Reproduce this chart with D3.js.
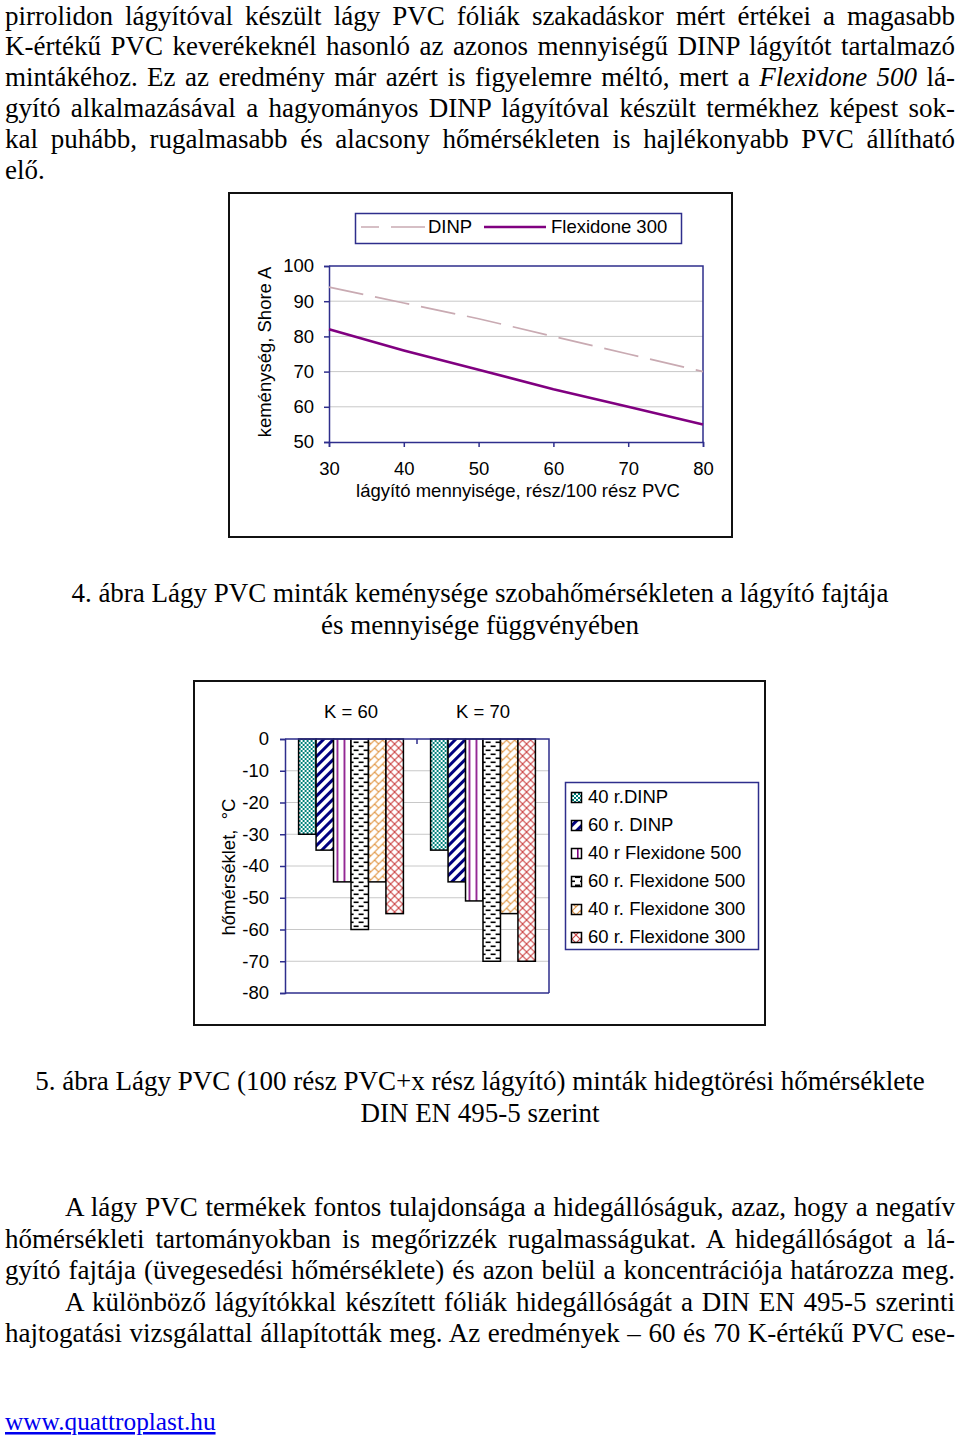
<!DOCTYPE html>
<html><head><meta charset="utf-8">
<script src="https://cdn.jsdelivr.net/npm/d3@7"></script>
<style>body{margin:0;background:#fff}svg{display:block}</style>
</head><body><svg id="page" width="960" height="1444"></svg>
<script>
// ---------- data ----------
const xValues = [30, 40, 50, 60, 70, 80];
const dinpHardness = [94, 89.5, 85, 80, 75, 70];
const flex300Hardness = [82, 76, 70.5, 65, 60, 55];
const yTicks1 = [50, 60, 70, 80, 90, 100];
const lineSeries = ["DINP", "Flexidone 300"];

const categories = ["K = 60", "K = 70"];
const barSeries = ["40 r.DINP", "60 r. DINP", "40 r Flexidone 500", "60 r. Flexidone 500", "40 r. Flexidone 300", "60 r. Flexidone 300"];
const k60Values = [-30, -35, -45, -60, -45, -55];
const k70Values = [-35, -45, -51, -70, -55, -70];
const yTicks2 = [0, -10, -20, -30, -40, -50, -60, -70, -80];

const topParagraph = [
  [["pirrolidon lágyítóval készült lágy PVC fóliák szakadáskor mért értékei a magasabb", 0]],
  [["K-értékű PVC keverékeknél hasonló az azonos mennyiségű DINP lágyítót tartalmazó", 0]],
  [["mintákéhoz. Ez az eredmény már azért is figyelemre méltó, mert a ", 0], ["Flexidone 500", 1], [" lá-", 0]],
  [["gyító alkalmazásával a hagyományos DINP lágyítóval készült termékhez képest sok-", 0]],
  [["kal puhább, rugalmasabb és alacsony hőmérsékleten is hajlékonyabb PVC állítható", 0]],
  [["elő.", 0]]
];
const caption1 = ["4. ábra Lágy PVC minták keménysége szobahőmérsékleten a lágyító fajtája", "és mennyisége függvényében"];
const caption2 = ["5. ábra Lágy PVC (100 rész PVC+x rész lágyító) minták hidegtörési hőmérséklete", "DIN EN 495-5 szerint"];
const bottomParagraph = [
  ["A lágy PVC termékek fontos tulajdonsága a hidegállóságuk, azaz, hogy a negatív", true, true],
  ["hőmérsékleti tartományokban is megőrizzék rugalmasságukat. A hidegállóságot a lá-", false, true],
  ["gyító fajtája (üvegesedési hőmérséklete) és azon belül a koncentrációja határozza meg.", false, true],
  ["A különböző lágyítókkal készített fóliák hidegállóságát a DIN EN 495-5 szerinti", true, true],
  ["hajtogatási vizsgálattal állapították meg. Az eredmények – 60 és 70 K-értékű PVC ese-", false, true]
];
const footerText = "www.quattroplast.hu";

// ---------- setup ----------
const svg = d3.select("#page");
const SERIF = "'Liberation Serif','Times New Roman',serif";
const SANS = "'Liberation Sans',Arial,sans-serif";
const AXIS = "#2e2e8c";
const GRID = "#c8c8c8";
const fmt = d => String(d);

function serifLine(segs, x, y, width, justify) {
  const t = svg.append("text").attr("x", x).attr("y", y)
    .attr("font-family", SERIF).attr("font-size", 27).attr("fill", "#000");
  segs.forEach(s => t.append("tspan").attr("font-style", s[1] ? "italic" : "normal").text(s[0]));
  if (justify) {
    const full = segs.map(s => s[0]).join("");
    const spaces = (full.match(/ /g) || []).length;
    const len = t.node().getComputedTextLength();
    if (spaces > 0) t.style("word-spacing", ((width - len) / spaces) + "px");
  }
  return t;
}
function centered(str, y) {
  svg.append("text").attr("x", 480).attr("y", y).attr("text-anchor", "middle")
    .attr("font-family", SERIF).attr("font-size", 27).text(str);
}

// top paragraph
topParagraph.forEach((segs, i) => {
  serifLine(segs, 5, 24.5 + i * 30.9, 950, i < topParagraph.length - 1);
});
// bottom paragraph
bottomParagraph.forEach((l, i) => {
  const x = l[1] ? 65 : 5;
  serifLine([[l[0], 0]], x, 1216 + i * 31.5, 955 - x, l[2]);
});
centered(caption1[0], 602); centered(caption1[1], 634);
centered(caption2[0], 1090); centered(caption2[1], 1122);
svg.append("text").attr("x", 5).attr("y", 1430).attr("font-family", SERIF).attr("font-size", 25.3)
  .attr("fill", "#0000ee").attr("text-decoration", "underline").text(footerText);

// ---------- chart 1 ----------
svg.append("rect").attr("x", 229).attr("y", 193).attr("width", 503).attr("height", 344)
  .attr("fill", "none").attr("stroke", "#111").attr("stroke-width", 2);

const x1 = d3.scaleLinear().domain([30, 80]).range([329, 703]);
const y1 = d3.scaleLinear().domain([50, 100]).range([442, 266]);

const g1 = svg.append("g");
g1.selectAll("line.grid").data(yTicks1.filter(v => v > 50 && v < 100)).join("line")
  .attr("x1", x1(30)).attr("x2", x1(80)).attr("y1", d => y1(d)).attr("y2", d => y1(d))
  .attr("stroke", GRID).attr("stroke-width", 1);
g1.append("path").attr("d", `M${x1(30)},${y1(100)}H${x1(80)}V${y1(50)}`)
  .attr("fill", "none").attr("stroke", AXIS).attr("stroke-width", 1.5);

const ax1 = g1.append("g").attr("transform", `translate(${x1(30)},0)`)
  .call(d3.axisLeft(y1).tickValues(yTicks1).tickSize(5).tickPadding(10).tickFormat(fmt));
const bx1 = g1.append("g").attr("transform", `translate(0,${y1(50)})`)
  .call(d3.axisBottom(x1).tickValues(xValues).tickSize(5).tickPadding(15).tickFormat(fmt));
[ax1, bx1].forEach(a => {
  a.select(".domain").attr("stroke", AXIS).attr("stroke-width", 1.5);
  a.selectAll(".tick line").attr("stroke", AXIS).attr("stroke-width", 1.5);
  a.selectAll("text").attr("font-family", SANS).attr("font-size", 18.5).attr("fill", "#000");
});

const line1 = d3.line().x((d, i) => x1(xValues[i])).y(d => y1(d));
g1.append("path").datum(dinpHardness).attr("d", line1).attr("fill", "none")
  .attr("stroke", "#c9aab2").attr("stroke-width", 1.6).attr("stroke-dasharray", "35,12");
g1.append("path").datum(flex300Hardness).attr("d", line1).attr("fill", "none")
  .attr("stroke", "#800080").attr("stroke-width", 2.6);

g1.append("text").attr("transform", `translate(271,352) rotate(-90)`).attr("text-anchor", "middle")
  .attr("font-family", SANS).attr("font-size", 18.5).text("keménység, Shore A");
g1.append("text").attr("x", 518).attr("y", 497).attr("text-anchor", "middle")
  .attr("font-family", SANS).attr("font-size", 18.5).text("lágyító mennyisége, rész/100 rész PVC");

// legend 1
g1.append("rect").attr("x", 355.5).attr("y", 213.5).attr("width", 326).attr("height", 30)
  .attr("fill", "#fff").attr("stroke", AXIS).attr("stroke-width", 1.5);
g1.append("line").attr("x1", 361).attr("x2", 425).attr("y1", 227).attr("y2", 227)
  .attr("stroke", "#c9aab2").attr("stroke-width", 1.6).attr("stroke-dasharray", "35,12").attr("stroke-dashoffset", -30);
g1.append("text").attr("x", 428).attr("y", 233).attr("font-family", SANS).attr("font-size", 18.5).text(lineSeries[0]);
g1.append("line").attr("x1", 484).attr("x2", 546).attr("y1", 227).attr("y2", 227)
  .attr("stroke", "#800080").attr("stroke-width", 2.6);
g1.append("text").attr("x", 551).attr("y", 233).attr("font-family", SANS).attr("font-size", 18.5).text(lineSeries[1]);

// ---------- chart 2 ----------
svg.append("rect").attr("x", 194).attr("y", 681).attr("width", 571).attr("height", 344)
  .attr("fill", "none").attr("stroke", "#111").attr("stroke-width", 2);

const defs = svg.append("defs");
function pat(id, w, h, draw, transform) {
  const p = defs.append("pattern").attr("id", id).attr("patternUnits", "userSpaceOnUse")
    .attr("width", w).attr("height", h);
  if (transform) p.attr("patternTransform", transform);
  p.append("rect").attr("width", w).attr("height", h).attr("fill", "#fff");
  draw(p);
}
pat("p0", 4, 4, p => {
  p.append("rect").attr("x", 0).attr("y", 0).attr("width", 2).attr("height", 2).attr("fill", "#00807a");
  p.append("rect").attr("x", 2).attr("y", 2).attr("width", 2).attr("height", 2).attr("fill", "#00807a");
});
pat("p1", 7, 7, p => {
  p.append("rect").attr("x", 0).attr("y", 0).attr("width", 3).attr("height", 7).attr("fill", "#000080");
}, "rotate(45)");
pat("p2", 7, 7, p => {
  p.append("rect").attr("x", 3).attr("y", 0).attr("width", 1.6).attr("height", 7).attr("fill", "#800080");
});
pat("p3", 10, 8, p => {
  p.append("rect").attr("x", 0).attr("y", 1.5).attr("width", 5).attr("height", 1.6).attr("fill", "#000");
  p.append("rect").attr("x", 5).attr("y", 5.5).attr("width", 5).attr("height", 1.6).attr("fill", "#000");
});
pat("p4", 8, 8, p => {
  p.append("path").attr("d", "M-1,9L9,-1M-1,1L1,-1M7,9L9,7M4,4L8,8").attr("stroke", "#e29a4a")
    .attr("stroke-width", 1.2).attr("fill", "none");
});
pat("p5", 8, 8, p => {
  p.append("path").attr("d", "M-1,-1L9,9M9,-1L-1,9").attr("stroke", "#cc4444")
    .attr("stroke-width", 1.1).attr("fill", "none");
});
const patternIds = ["p0", "p1", "p2", "p3", "p4", "p5"];

const x0 = d3.scaleBand().domain(categories).range([285, 549]).paddingInner(0.206).paddingOuter(0.103);
const xb = d3.scaleBand().domain(barSeries).range([0, x0.bandwidth()]);
const y2 = d3.scaleLinear().domain([-80, 0]).range([993, 739]);

const g2 = svg.append("g");
g2.selectAll("line.grid").data(yTicks2.filter(v => v < 0 && v > -80)).join("line")
  .attr("x1", 285).attr("x2", 549).attr("y1", d => y2(d)).attr("y2", d => y2(d))
  .attr("stroke", GRID).attr("stroke-width", 1);

const table = categories.map((c, ci) => ({ cat: c, vals: (ci === 0 ? k60Values : k70Values) }));
const groups = g2.selectAll("g.grp").data(table).join("g")
  .attr("transform", d => `translate(${x0(d.cat)},0)`);
groups.selectAll("rect").data(d => d.vals.map((v, i) => ({ s: barSeries[i], v, i }))).join("rect")
  .attr("x", d => xb(d.s)).attr("width", xb.bandwidth())
  .attr("y", y2(0)).attr("height", d => y2(d.v) - y2(0))
  .attr("fill", d => `url(#${patternIds[d.i]})`).attr("stroke", "#000").attr("stroke-width", 1.5);

g2.append("path").attr("d", `M285,${y2(0)}H549V${y2(-80)}`).attr("fill", "none")
  .attr("stroke", AXIS).attr("stroke-width", 1.5);
const ax2 = g2.append("g").attr("transform", "translate(285,0)")
  .call(d3.axisLeft(y2).tickValues(yTicks2).tickSize(5).tickPadding(11).tickFormat(fmt));
ax2.select(".domain").attr("stroke", AXIS).attr("stroke-width", 1.5);
ax2.selectAll(".tick line").attr("stroke", AXIS).attr("stroke-width", 1.5);
ax2.selectAll("text").attr("font-family", SANS).attr("font-size", 18.5).attr("fill", "#000");
g2.append("line").attr("x1", 285).attr("x2", 549).attr("y1", y2(-80)).attr("y2", y2(-80))
  .attr("stroke", AXIS).attr("stroke-width", 1.5);
d3.range(1, categories.length).forEach(i => {
  const xx = 285 + i * x0.step();
  g2.append("line").attr("x1", xx).attr("x2", xx).attr("y1", y2(0)).attr("y2", y2(0) + 5)
    .attr("stroke", AXIS).attr("stroke-width", 1.5);
});
g2.selectAll("text.cat").data(categories).join("text").attr("class", "cat")
  .attr("x", d => x0(d) + x0.bandwidth() / 2).attr("y", 718).attr("text-anchor", "middle")
  .attr("font-family", SANS).attr("font-size", 18.5).text(d => d);
g2.append("text").attr("transform", "translate(235,867) rotate(-90)").attr("text-anchor", "middle")
  .attr("font-family", SANS).attr("font-size", 18.5).attr("xml:space", "preserve").text("hőmérséklet,  °C");

// legend 2
g2.append("rect").attr("x", 565.5).attr("y", 782.5).attr("width", 193).attr("height", 167)
  .attr("fill", "#fff").attr("stroke", AXIS).attr("stroke-width", 1.5);
const leg = g2.selectAll("g.leg").data(barSeries).join("g")
  .attr("transform", (d, i) => `translate(0,${803 + i * 28})`);
leg.append("rect").attr("x", 571.5).attr("y", -10.5).attr("width", 10).attr("height", 10)
  .attr("fill", (d, i) => `url(#${patternIds[i]})`).attr("stroke", "#000").attr("stroke-width", 1.5);
leg.append("text").attr("x", 588).attr("y", 0).attr("font-family", SANS).attr("font-size", 18.5).text(d => d);
</script></body></html>
